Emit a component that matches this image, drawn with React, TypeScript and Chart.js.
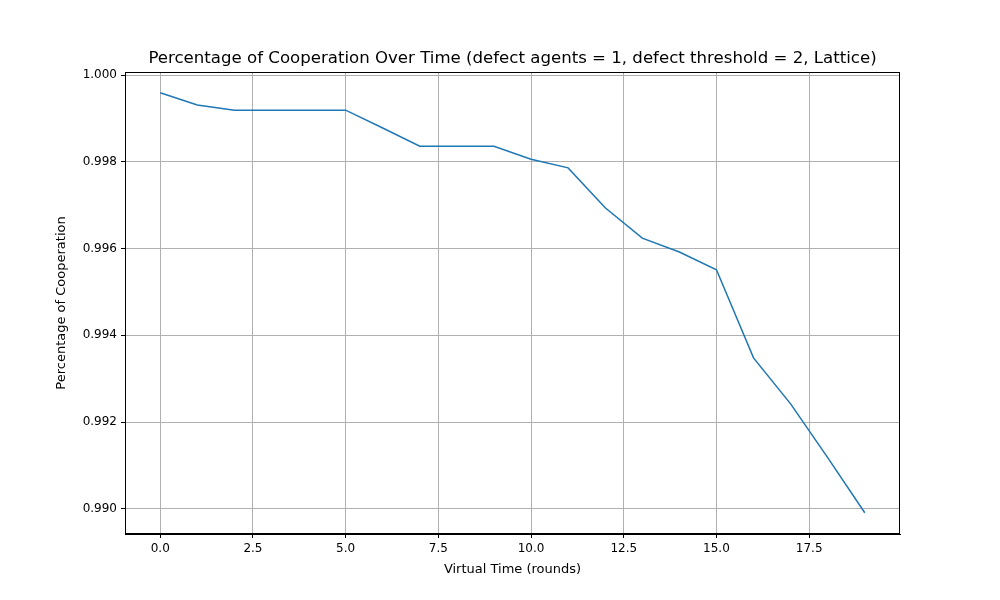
import React, { useEffect, useRef } from 'react';
import { Chart, registerables } from 'chart.js';

Chart.register(...registerables);

const rounds = [0, 1, 2, 3, 4, 5, 6, 7, 8, 9, 10, 11, 12, 13, 14, 15, 16, 17, 18, 19];
const cooperation = [
  0.99959, 0.99931, 0.99919, 0.99919, 0.99919, 0.99919, 0.99878, 0.99836, 0.99836, 0.99836,
  0.99806, 0.99786, 0.99694, 0.99624, 0.99592, 0.99551, 0.99348, 0.99242, 0.99118, 0.98991,
];
const xTicks = [0, 2.5, 5, 7.5, 10, 12.5, 15, 17.5];
const yTicks = [0.99, 0.992, 0.994, 0.996, 0.998, 1.0];
const title = 'Percentage of Cooperation Over Time (defect agents = 1, defect threshold = 2, Lattice)';
const xTitle = 'Virtual Time (rounds)';
const yTitle = 'Percentage of Cooperation';

const FONT = "'DejaVu Sans', sans-serif";

// matplotlib-like title, axis labels and full frame
const decorPlugin = {
  id: 'decor',
  afterDraw(chart: Chart) {
    const { ctx, chartArea } = chart;
    const cx = (chartArea.left + chartArea.right) / 2;
    const cy = (chartArea.top + chartArea.bottom) / 2;
    ctx.save();
    ctx.strokeStyle = '#000';
    ctx.lineWidth = 1;
    ctx.strokeRect(chartArea.left + 0.5, chartArea.top + 0.5, chartArea.right - chartArea.left - 1, chartArea.bottom - chartArea.top - 1);
    ctx.fillStyle = '#000';
    ctx.textAlign = 'center';
    ctx.font = `16.6px ${FONT}`;
    ctx.textBaseline = 'bottom';
    ctx.fillText(title, cx, chartArea.top - 5);
    ctx.font = `13px ${FONT}`;
    ctx.textBaseline = 'middle';
    ctx.fillText(xTitle, cx, 570);
    ctx.translate(62, cy);
    ctx.rotate(-Math.PI / 2);
    ctx.fillText(yTitle, 0, 0);
    ctx.restore();
  },
};

const App: React.FC = () => {
  const chartRef = useRef<HTMLCanvasElement>(null);
  const chartInstance = useRef<Chart | null>(null);

  useEffect(() => {
    if (chartInstance.current) chartInstance.current.destroy();
    const ctx = chartRef.current?.getContext('2d');
    if (ctx) {
      chartInstance.current = new Chart(ctx, {
        type: 'line',
        data: {
          datasets: [
            {
              data: rounds.map((r, i) => ({ x: r, y: cooperation[i] })),
              borderColor: '#1f77b4',
              borderWidth: 1.5,
              pointRadius: 0,
              tension: 0,
            },
          ],
        },
        options: {
          responsive: false,
          animation: false,
          layout: { padding: { left: 0, right: 100, top: 72, bottom: 0 } },
          plugins: { legend: { display: false }, title: { display: false }, tooltip: { enabled: false } },
          scales: {
            x: {
              type: 'linear',
              min: -0.95,
              max: 19.95,
              afterBuildTicks: (s: any) => { s.ticks = xTicks.map(v => ({ value: v })); },
              afterFit: (s: any) => { s.height = 66; },
              ticks: { color: '#000', font: { family: FONT, size: 12 }, callback: (v: any) => Number(v).toFixed(1), maxRotation: 0, padding: 4 },
              grid: { color: '#b0b0b0', tickColor: '#000', tickLength: 4 },
              border: { color: '#000' },
            },
            y: {
              min: 0.98942,
              max: 1.00007,
              afterBuildTicks: (s: any) => { s.ticks = yTicks.map(v => ({ value: v })); },
              afterFit: (s: any) => { s.width = 125; },
              ticks: { color: '#000', font: { family: FONT, size: 12 }, callback: (v: any) => Number(v).toFixed(3), padding: 4 },
              grid: { color: '#b0b0b0', tickColor: '#000', tickLength: 4 },
              border: { color: '#000' },
            },
          },
        },
        plugins: [decorPlugin],
      });
    }
    return () => {
      if (chartInstance.current) chartInstance.current.destroy();
    };
  }, []);

  return (
    <div style={{ position: 'fixed', left: 0, top: 0, width: 1000, height: 600, background: '#fff' }}>
      <canvas ref={chartRef} width={1000} height={600}></canvas>
    </div>
  );
};

export default App;
